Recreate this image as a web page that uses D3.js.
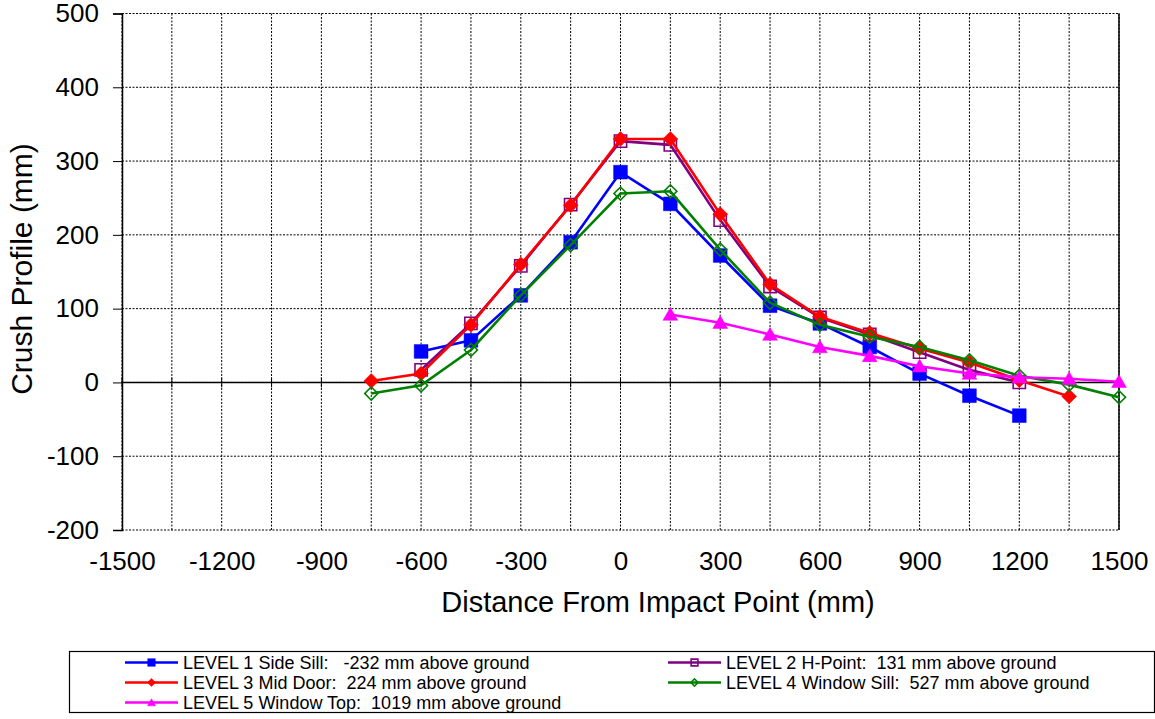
<!DOCTYPE html>
<html>
<head>
<meta charset="utf-8">
<script src="https://cdn.jsdelivr.net/npm/d3@7"></script>
<style>
  body { margin: 0; background: #fff; }
  svg { display: block; font-family: "Liberation Sans", Arial, sans-serif; }
  text { white-space: pre; }
</style>
</head>
<body>
<svg id="chart" width="1155" height="719"></svg>
<script>
// data (mm)
const xLevel1 = [-600, -450, -300, -150, 0, 150, 300, 450, 600, 750, 900, 1050, 1200];
const yLevel1 = [42, 57, 118, 190, 285, 242, 172, 104, 80, 48, 12, -18, -45];

const xLevel2 = [-600, -450, -300, -150, 0, 150, 300, 450, 600, 750, 900, 1050, 1200];
const yLevel2 = [17, 80, 158, 241, 327, 322, 220, 130, 88, 65, 41, 17, 0];

const xLevel3 = [-750, -600, -450, -300, -150, 0, 150, 300, 450, 600, 750, 900, 1050, 1200, 1350];
const yLevel3 = [2, 12, 78, 160, 240, 330, 330, 228, 133, 89, 67, 46, 27, 3, -19];

const xLevel4 = [-750, -600, -450, -300, -150, 0, 150, 300, 450, 600, 750, 900, 1050, 1200, 1350, 1500];
const yLevel4 = [-15, -4, 44, 118, 186, 256, 259, 180, 108, 78, 62, 48, 30, 9, -3, -20];

const xLevel5 = [150, 300, 450, 600, 750, 900, 1050, 1200, 1350, 1500];
const yLevel5 = [92, 81, 65, 48, 36, 22, 12, 7, 5, 1];

const seriesNames = [
  "LEVEL 1 Side Sill:   -232 mm above ground",
  "LEVEL 2 H-Point:  131 mm above ground",
  "LEVEL 3 Mid Door:  224 mm above ground",
  "LEVEL 4 Window Sill:  527 mm above ground",
  "LEVEL 5 Window Top:  1019 mm above ground"
];

const xTickLabels = [-1500, -1200, -900, -600, -300, 0, 300, 600, 900, 1200, 1500];
const yTickLabels = [-200, -100, 0, 100, 200, 300, 400, 500];

// series styles
const series = [
  { x: xLevel1, y: yLevel1, color: "#0000ff", shape: "square", filled: true },
  { x: xLevel2, y: yLevel2, color: "#800080", shape: "square", filled: false },
  { x: xLevel3, y: yLevel3, color: "#ff0000", shape: "diamond", filled: true },
  { x: xLevel4, y: yLevel4, color: "#008000", shape: "diamond", filled: false },
  { x: xLevel5, y: yLevel5, color: "#ff00ff", shape: "triangle", filled: true }
].map((s, i) => ({ ...s, name: seriesNames[i], points: s.x.map((v, j) => ({ x: v, y: s.y[j] })) }));

const svg = d3.select("#chart");

// plot area
const plotLeft = 122, plotRight = 1119, plotTop = 13.5, plotBottom = 530;

const xScale = d3.scaleLinear().domain([-1500, 1500]).range([plotLeft, plotRight]);
const yScale = d3.scaleLinear().domain([-200, 500]).range([plotBottom, plotTop]);

const gridX = d3.range(-1500, 1501, 150);
const gridY = d3.range(-200, 501, 100);

// plain hyphen labels, no thousands separator
const plainFormat = d => String(d);

// gridlines
const grid = svg.append("g");
grid.selectAll(".gx")
  .data(gridX)
  .enter()
  .append("line")
  .attr("x1", d => xScale(d)).attr("x2", d => xScale(d))
  .attr("y1", plotTop).attr("y2", plotBottom)
  .attr("stroke", "#000")
  .attr("stroke-width", 1)
  .attr("stroke-dasharray", "2,1.5");

grid.selectAll(".gy")
  .data(gridY)
  .enter()
  .append("line")
  .attr("x1", plotLeft).attr("x2", plotRight)
  .attr("y1", d => yScale(d)).attr("y2", d => yScale(d))
  .attr("stroke", "#000")
  .attr("stroke-width", 1)
  .attr("stroke-dasharray", "2,1.5");

// right border
svg.append("line")
  .attr("x1", plotRight).attr("x2", plotRight)
  .attr("y1", plotTop).attr("y2", plotBottom)
  .attr("stroke", "#000").attr("stroke-width", 1.5);

// y axis
const yAxis = d3.axisLeft(yScale).tickValues(yTickLabels).tickFormat(plainFormat).tickSize(9).tickPadding(14);
const yAxisG = svg.append("g")
  .attr("transform", `translate(${ plotLeft }, 0)`)
  .call(yAxis);
yAxisG.select(".domain").attr("stroke", "#000").attr("stroke-width", 1.5);
yAxisG.selectAll("line").attr("stroke", "#000").attr("stroke-width", 1);
yAxisG.selectAll("text")
  .attr("font-size", "26px")
  .attr("font-family", "Liberation Sans, Arial, sans-serif")
  .attr("fill", "#000");

// zero line with crossing ticks
svg.append("line")
  .attr("x1", plotLeft).attr("x2", plotRight)
  .attr("y1", yScale(0)).attr("y2", yScale(0))
  .attr("stroke", "#000").attr("stroke-width", 1.5);

svg.selectAll(".xtick")
  .data(gridX)
  .enter()
  .append("line")
  .attr("x1", d => xScale(d)).attr("x2", d => xScale(d))
  .attr("y1", yScale(0) - 5).attr("y2", yScale(0) + 5)
  .attr("stroke", "#000").attr("stroke-width", 1);

// x labels at the bottom
const xAxis = d3.axisBottom(xScale).tickValues(xTickLabels).tickFormat(plainFormat).tickSize(0).tickPadding(22);
const xAxisG = svg.append("g")
  .attr("transform", `translate(0, ${ plotBottom })`)
  .call(xAxis);
xAxisG.select(".domain").remove();
xAxisG.selectAll("text")
  .attr("font-size", "26px")
  .attr("font-family", "Liberation Sans, Arial, sans-serif")
  .attr("fill", "#000");

// axis titles
svg.append("text")
  .attr("x", 658)
  .attr("y", 612)
  .attr("text-anchor", "middle")
  .attr("font-size", "29px")
  .text("Distance From Impact Point (mm)");

svg.append("text")
  .attr("transform", "rotate(-90)")
  .attr("x", -269)
  .attr("y", 32)
  .attr("text-anchor", "middle")
  .attr("font-size", "30px")
  .text("Crush Profile (mm)");

// marker helper
function marker(sel, s, big, tr)
{
  const k = big ? 1 : 0.55;
  let path;
  if (s.shape === "square") path = d3.symbol(d3.symbolSquare, (s.filled ? 190 : 150) * k * k)();
  else if (s.shape === "diamond") path = d3.symbol(d3.symbolSquare, (s.filled ? 110 : 85) * k * k)();
  else path = d3.symbol(d3.symbolTriangle, 95 * k * k)();
  sel.attr("d", path)
    .attr("fill", s.filled ? s.color : "none")
    .attr("stroke", s.color)
    .attr("stroke-width", s.filled ? 0.5 : 1.6)
    .attr("transform", tr + (s.shape === "diamond" ? " rotate(45)" : ""));
}

// lines and markers
const line = d3.line().x(d => xScale(d.x)).y(d => yScale(d.y));

series.forEach(s =>
{
  const g = svg.append("g");
  g.append("path")
    .datum(s.points)
    .attr("d", line)
    .attr("fill", "none")
    .attr("stroke", s.color)
    .attr("stroke-width", 2.6);

  g.selectAll("path.pt")
    .data(s.points)
    .enter()
    .append("path")
    .attr("class", "pt")
    .each(function (d)
    {
      const tr = `translate(${ xScale(d.x) }, ${ yScale(d.y) + (s.shape === "triangle" ? 1.5 : 0) })`;
      marker(d3.select(this), s, true, tr);
    });
});

// legend
svg.append("rect")
  .attr("x", 69.5).attr("y", 651.5)
  .attr("width", 1085).attr("height", 61)
  .attr("fill", "#fff")
  .attr("stroke", "#000")
  .attr("stroke-width", 1.2);

const legendPos = [
  { x: 125, y: 662.5 }, { x: 668, y: 662.5 },
  { x: 125, y: 682.5 }, { x: 668, y: 682.5 },
  { x: 125, y: 702.5 }
];

series.forEach((s, i) =>
{
  const p = legendPos[i];
  const g = svg.append("g").attr("transform", `translate(${ p.x }, ${ p.y })`);
  g.append("line")
    .attr("x1", 0).attr("x2", 53)
    .attr("stroke", s.color)
    .attr("stroke-width", 2.6);
  g.append("path")
    .each(function () { marker(d3.select(this), s, false, `translate(26.5, ${ s.shape === "triangle" ? 1 : 0 })`); });
  g.append("text")
    .attr("x", 58)
    .attr("y", 0)
    .attr("dy", "0.35em")
    .attr("font-size", "18px")
    .attr("fill", "#000")
    .text(s.name);
});
</script>
</body>
</html>
